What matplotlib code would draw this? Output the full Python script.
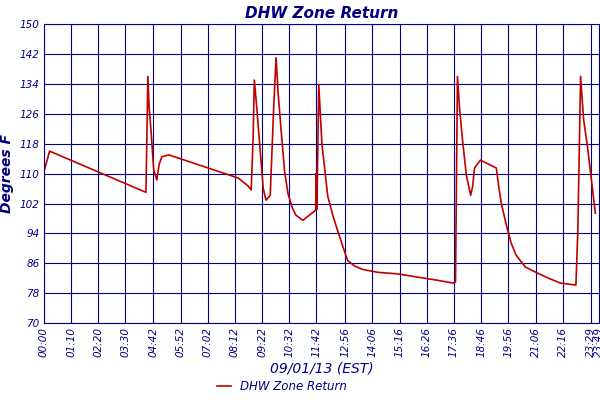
import matplotlib
matplotlib.use("Agg")
import matplotlib.pyplot as plt

minutes = [0, 15, 263, 268, 271, 276, 283, 291, 297, 304, 322, 501, 526, 534, 539, 542, 548, 557, 565, 572, 583, 592, 598, 603, 611, 620, 629, 640, 649, 667, 685, 700, 701, 703, 708, 716, 731, 745, 756, 770, 782, 800, 820, 860, 910, 1012, 1055, 1060, 1065, 1070, 1078, 1088, 1099, 1104, 1109, 1124, 1165, 1172, 1178, 1191, 1203, 1216, 1240, 1267, 1300, 1331, 1370, 1375, 1382, 1386, 1390, 1400, 1408, 1420]
temps = [110.4, 116.0, 105.0, 136.0, 128.0, 121.6, 111.0, 108.3, 112.5, 114.5, 115.0, 108.8, 106.7, 105.6, 120.0, 135.0, 128.0, 116.3, 106.0, 102.9, 104.2, 128.0, 141.0, 132.0, 121.6, 110.5, 104.5, 100.8, 98.9, 97.5, 99.0, 100.2, 110.0, 100.5, 133.7, 118.0, 104.0, 98.5, 94.9, 90.5, 86.8, 85.3, 84.4, 83.6, 83.2, 81.5, 80.7, 81.0, 136.0, 128.0, 119.0, 109.5, 104.2, 106.5, 111.5, 113.6, 111.5, 106.0, 102.0, 96.2, 91.5, 88.2, 85.0, 83.6, 82.0, 80.7, 80.2, 95.0, 136.0, 130.0, 124.3, 117.0, 110.0, 99.4]
tick_min = [0, 70, 140, 210, 282, 352, 422, 492, 562, 632, 702, 776, 846, 916, 986, 1056, 1126, 1196, 1266, 1336, 1409, 1429]
tick_lab = ["00:00", "01:10", "02:20", "03:30", "04:42", "05:52", "07:02", "08:12", "09:22", "10:32", "11:42", "12:56", "14:06", "15:16", "16:26", "17:36", "18:46", "19:56", "21:06", "22:16", "23:29", "23:49"]
yticks = list(range(70, 151, 8))

navy = "#000080"
fig = plt.figure(figsize=(6, 4), dpi=100)
ax = fig.add_axes([0.073, 0.192, 0.927, 0.748])
ax.plot(minutes, temps, color="#c00000", lw=1.2, label="DHW Zone Return")
ax.set_xlim(0, 1432)
ax.set_ylim(70, 150)
ax.set_xticks(tick_min)
ax.set_xticklabels(tick_lab, rotation=90, fontsize=7.5, style="italic", color=navy)
ax.set_yticks(yticks)
ax.set_yticklabels([str(v) for v in yticks], fontsize=7.5, style="italic", color=navy)
ax.tick_params(length=0, pad=3)
ax.grid(True, color=navy, lw=0.8)
ax.set_axisbelow(True)
for s in ax.spines.values():
    s.set_color(navy)
ax.set_title("DHW Zone Return", fontsize=11, style="italic", weight="bold", color=navy, pad=4)
ax.set_ylabel("Degrees F", fontsize=10, style="italic", weight="bold", color=navy, labelpad=4)
ax.set_xlabel("09/01/13 (EST)", fontsize=10, style="italic", color=navy, labelpad=3)
leg = fig.legend(loc="lower center", bbox_to_anchor=(0.47, -0.01), frameon=False, fontsize=8.5, handlelength=1.2)
for t in leg.get_texts():
    t.set_color(navy); t.set_style("italic")
fig.savefig("out.png")
